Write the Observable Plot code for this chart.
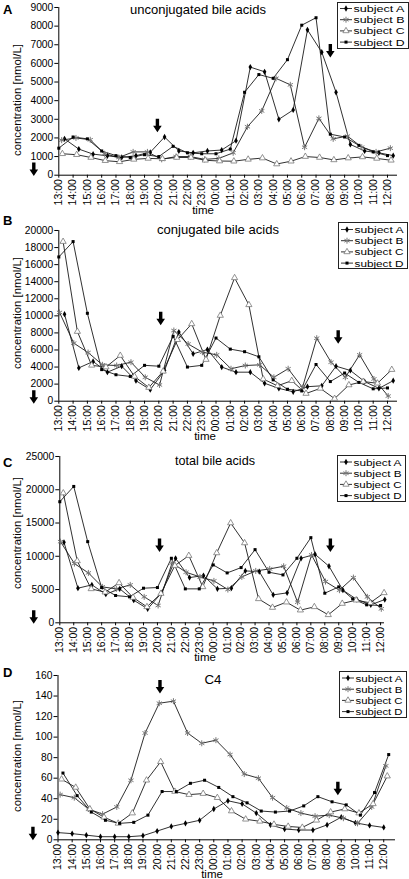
<!DOCTYPE html>
<html><head><meta charset="utf-8">
<script src="https://cdn.jsdelivr.net/npm/d3@7"></script>
<script src="https://cdn.jsdelivr.net/npm/@observablehq/plot@0.6"></script>
<style>
body{margin:0;background:#fff;}
#fig{position:relative;width:409px;height:879px;overflow:hidden;background:#fff;}
#fig svg{position:absolute;left:0;}
</style></head><body><div id="fig"></div>
<script>
// ---------- data ----------
const timeLabels = ["13:00","14:00","15:00","16:00","17:00","18:00","19:00","20:00","21:00","22:00","23:00","00:00","01:00","02:00","03:00","04:00","05:00","06:00","07:00","08:00","09:00","10:00","11:00","12:00"];
const subjects = ["subject A","subject B","subject C","subject D"];

// A: unconjugated bile acids [nmol/L]
const unconjOffsets = [0.4, 0.2, 0.25, 0];
const unconjA = [1950,1400,1130,1040,950,1050,1230,2050,1300,1200,1300,1350,1850,5800,5550,3000,3500,7800,6600,4450,1650,1300,1200,1050];
const unconjB = [1880,2000,1900,1150,950,1250,1250,850,1000,1000,850,900,1200,2600,3450,5200,4850,1500,3050,1950,2100,1500,1250,1450];
const unconjC = [1150,1100,950,780,720,850,900,880,950,950,800,760,750,850,920,600,750,1000,950,820,920,980,900,800];
const unconjD = [1450,2050,1950,1300,1050,950,1100,1000,1550,1200,1150,1150,1400,4450,5400,5200,6200,8050,8450,2200,2050,1600,1250,1050];
const unconjArrows = [{t:6.9,v:2650},{t:19.0,v:6670},{t:-1.75,v:300}];

// B: conjugated bile acids [nmol/L]
const conjOffsets = [0.4, 0.05, 0.3, 0];
const conjA = [10200,3900,4650,3400,4100,2400,1350,3600,8100,5550,6050,4000,3400,3400,2100,1500,1100,1700,1800,4100,3600,2300,1500,2400];
const conjB = [10400,6800,5700,4260,4180,4570,2800,1900,8280,6700,5740,5430,3800,4180,4260,2800,3800,1600,7380,4570,2800,5430,2600,600];
const conjC = [18700,8160,4200,4000,5350,2900,1600,3500,7200,9060,4880,10040,14450,11290,2600,1800,2400,900,1500,300,1900,2300,2100,3700];
const conjD = [16900,18700,10300,3700,3100,2900,4200,4100,7600,4000,4200,7400,6100,5800,5200,2500,1400,1200,4300,2300,3300,2200,1450,1550];
const conjArrows = [{t:7.13,v:9650},{t:19.55,v:7500},{t:-1.75,v:470}];

// C: total bile acids [nmol/L]
const totalOffsets = [0.3, 0.05, 0.25, 0];
const totalA = [12100,5200,5700,4300,5100,3400,2100,4500,9700,6800,7100,5100,5200,7800,7700,4200,4500,9700,10300,8500,4900,3500,2700,3500];
const totalB = [12200,8900,7500,5400,5100,5700,3900,2600,9000,7600,6900,6300,5000,6900,7800,8100,8500,3100,10200,6200,4900,6800,3900,2100];
const totalC = [19500,9300,5100,4600,6000,3800,2400,4400,8600,10100,5400,10500,15000,12000,3600,2300,3100,1900,2400,1200,2900,3400,3000,4500];
const totalD = [18200,20500,12200,5300,4100,3900,5200,5300,9700,5100,5100,8700,7500,8300,11000,7600,7200,9700,12800,4450,5400,3600,2700,2600];
const totalArrows = [{t:7.15,v:11620},{t:19.4,v:11620},{t:-1.87,v:850}];

// D: C4 [nmol/L]
const c4Offsets = [0, 0.15, 0.25, 0.35];
const c4A = [7,6,4.5,3,3,3,4,8.5,13,16,19,30,38,35,26,14.5,10.5,9.5,9.5,14.5,22,16.5,14,12];
const c4B = [44,41,30,25,32,58,104,133,135,104,94,97,83,64,60,41,31,26,23,24,21,16,32,72];
const c4C = [59,51,30,22,16,26,58,76,47,44,45,41,28,20,18,15,13,12,19,27,30,26,35,62];
const c4D = [65,43,27,19,16,17,24,47,47,55,58,51,42,36,28,27,28,33,42,37,34,24,46,83];
const c4Arrows = [{t:7.2,v:148.7},{t:19.76,v:49.7},{t:-1.77,v:5.8}];

// ---------- layout / style ----------
const FONT = '"Liberation Sans", Arimo, Arial, Helvetica, sans-serif';
const MT = 20, MB = 55;
const markerStyles = [
  {symbol:"diamond", d3s:d3.symbolDiamond, r:1.9, fill:"#000", stroke:"none", sw:0},
  {symbol:"asterisk", d3s:d3.symbolAsterisk, r:2.8, fill:"none", stroke:"#777", sw:1},
  {symbol:"triangle", d3s:d3.symbolTriangle, r:2.3, fill:"#fff", stroke:"#777", sw:0.8},
  {symbol:"square", d3s:d3.symbolSquare, r:1.7, fill:"#000", stroke:"none", sw:0}
];
const downArrow = {draw(ctx){
  ctx.moveTo(-1.7,-7); ctx.lineTo(1.7,-7); ctx.lineTo(1.7,0); ctx.lineTo(4.3,0);
  ctx.lineTo(0,6.5); ctx.lineTo(-4.3,0); ctx.lineTo(-1.7,0); ctx.closePath();
}};

const panels = [
  {letter:"A", title:"unconjugated bile acids", titleLen:136, data:[unconjA,unconjB,unconjC,unconjD], offsets:unconjOffsets, arrows:unconjArrows,
   ymax:9000, ystep:1000, top:7.3, bottom:175, left:58.3, right:397, xmax:23.7,
   letterPos:[3,14], titlePos:[198,13.5], ylabY:100, timePos:[203,214], legend:{x:337,y:2,w:71,h:46,row0:8.5,gap:11.2}},
  {letter:"B", title:"conjugated bile acids", titleLen:122, data:[conjA,conjB,conjC,conjD], offsets:conjOffsets, arrows:conjArrows,
   ymax:20000, ystep:2000, top:230, bottom:400.7, left:58.3, right:397, xmax:23.7,
   letterPos:[3,225], titlePos:[218,234], ylabY:313, timePos:[205,440], legend:{x:338,y:222,w:69,h:46,row0:229.5,gap:11.2}},
  {letter:"C", title:"total bile acids", titleLen:80, data:[totalA,totalB,totalC,totalD], offsets:totalOffsets, arrows:totalArrows,
   ymax:25000, ystep:5000, top:456, bottom:622.3, left:59.3, right:384, xmax:23.28,
   letterPos:[3,467], titlePos:[215,465], ylabY:533, timePos:[205,661], legend:{x:337,y:455,w:68,h:46,row0:462,gap:11.2}},
  {letter:"D", title:"C4", titleLen:17, data:[c4A,c4B,c4C,c4D], offsets:c4Offsets, arrows:c4Arrows,
   ymax:160, ystep:20, top:675, bottom:839.3, left:57.5, right:395, xmax:23.83,
   letterPos:[3,677], titlePos:[213,684], ylabY:756, timePos:[212,877.5], legend:{x:339,y:671,w:67,h:46,row0:678,gap:11.2}}
];

const fig = document.getElementById("fig");

panels.forEach(p => {
  const rows = [];
  p.data.forEach((vals, s) => vals.forEach((v, i) => rows.push({s, t: p.offsets[s] + i, v})));
  const frameH = p.bottom - p.top;
  const H = frameH + MT + MB;
  const plot = Plot.plot({
    width: 409, height: H,
    marginTop: MT, marginBottom: MB, marginLeft: p.left, marginRight: 409 - p.right,
    style: {background: "transparent", overflow: "visible", fontFamily: FONT, fontSize: "10.5px", color: "#000"},
    x: {domain: [0, p.xmax], axis: null},
    y: {domain: [0, p.ymax], axis: null},
    marks: [
      Plot.axisY({ticks: d3.range(0, p.ymax + 1, p.ystep), tickSize: 4, tickPadding: 1.5, tickFormat: d => String(d), label: null, fontSize: 10.3}),
      Plot.axisX({ticks: d3.range(timeLabels.length), tickFormat: i => timeLabels[i], tickRotate: -90, tickSize: 3, tickPadding: 1, label: null, fontSize: 10.5}),
      Plot.ruleX([0], {stroke: "#000"}),
      Plot.ruleY([0], {stroke: "#000"}),
      Plot.line(rows, {x: "t", y: "v", z: "s", stroke: "#1a1a1a", strokeWidth: 0.9}),
      ...markerStyles.map((m, s) => Plot.dot(rows.filter(r => r.s === s), {x: "t", y: "v", symbol: m.symbol, r: m.r, fill: m.fill, stroke: m.stroke, strokeWidth: m.sw})),
      Plot.dot(p.arrows, {x: "t", y: "v", symbol: downArrow, r: 4, fill: "#000", stroke: "none"})
    ]
  });
  plot.style.top = (p.top - MT) + "px";
  fig.appendChild(plot);
});

// overlay with panel letters, titles, axis labels and legends
const ov = d3.select(fig).append("svg").attr("width", 409).attr("height", 879)
  .style("top", "0px").style("pointer-events", "none").style("font-family", FONT);

panels.forEach(p => {
  ov.append("text").attr("x", p.letterPos[0]).attr("y", p.letterPos[1]).attr("font-weight", "bold").attr("font-size", 13).text(p.letter);
  ov.append("text").attr("x", p.titlePos[0]).attr("y", p.titlePos[1]).attr("text-anchor", "middle").attr("font-size", 13)
    .attr("textLength", p.titleLen).attr("lengthAdjust", "spacingAndGlyphs").text(p.title);
  ov.append("text").attr("transform", `translate(21,${p.ylabY}) rotate(-90)`).attr("text-anchor", "middle").attr("font-size", 11.3)
    .attr("textLength", 112).attr("lengthAdjust", "spacingAndGlyphs").text("concentration [nmol/L]");
  ov.append("text").attr("x", p.timePos[0]).attr("y", p.timePos[1]).attr("text-anchor", "middle").attr("font-size", 11.5).text("time");
  const L = p.legend;
  ov.append("rect").attr("x", L.x + 0.5).attr("y", L.y + 0.5).attr("width", L.w).attr("height", L.h).attr("fill", "#fff").attr("stroke", "#222").attr("stroke-width", 1);
  subjects.forEach((name, i) => {
    const cy = L.row0 + i * L.gap;
    const m = markerStyles[i];
    ov.append("line").attr("x1", L.x + 3).attr("x2", L.x + 15).attr("y1", cy).attr("y2", cy).attr("stroke", "#1a1a1a").attr("stroke-width", 0.9);
    ov.append("path").attr("transform", `translate(${L.x + 9},${cy})`)
      .attr("d", d3.symbol(m.d3s, m.r * m.r * Math.PI)())
      .attr("fill", m.fill).attr("stroke", m.stroke).attr("stroke-width", m.sw);
    ov.append("text").attr("x", L.x + 16.5).attr("y", cy + 3.5).attr("font-size", 9.6)
      .attr("textLength", L.w - 20).attr("lengthAdjust", "spacingAndGlyphs").text(name);
  });
});
</script></body></html>
